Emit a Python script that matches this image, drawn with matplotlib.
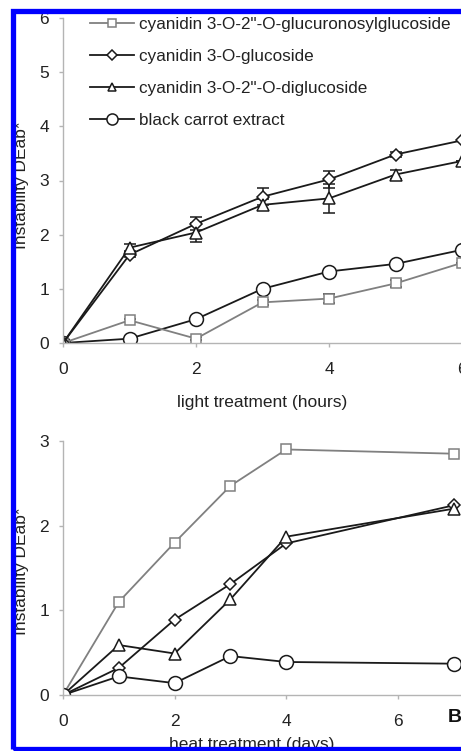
import matplotlib
matplotlib.use('Agg')
import matplotlib.pyplot as plt
from matplotlib.patches import Rectangle

plt.rcParams['font.family'] = ['Liberation Sans', 'DejaVu Sans']

# light treatment (hours)
light_x = [0, 1, 2, 3, 4, 5, 6]
light_glucuronosyl = [0, 0.42, 0.08, 0.75, 0.82, 1.10, 1.48]
light_glucuronosyl_err = [0, 0.03, 0.03, 0.04, 0.08, 0.06, 0.0]
light_glucoside = [0, 1.63, 2.20, 2.70, 3.02, 3.48, 3.74]
light_glucoside_err = [0, 0.05, 0.12, 0.16, 0.15, 0.05, 0.0]
light_diglucoside = [0, 1.76, 2.04, 2.55, 2.67, 3.11, 3.36]
light_diglucoside_err = [0, 0.06, 0.17, 0.10, 0.27, 0.09, 0.0]
light_carrot = [0, 0.08, 0.44, 1.00, 1.32, 1.46, 1.72]

# heat treatment (days)
heat_x = [0, 1, 2, 3, 4, 7]
heat_glucuronosyl = [0, 1.10, 1.80, 2.47, 2.90, 2.85]
heat_glucoside = [0, 0.32, 0.89, 1.31, 1.79, 2.24]
heat_diglucoside = [0, 0.59, 0.49, 1.13, 1.87, 2.20]
heat_carrot = [0, 0.22, 0.14, 0.46, 0.39, 0.37]

labels = ['cyanidin 3-O-2"-O-glucuronosylglucoside',
          'cyanidin 3-O-glucoside',
          'cyanidin 3-O-2"-O-diglucoside',
          'black carrot extract']

W, H = 461, 751
fig = plt.figure(figsize=(W / 100, H / 100), dpi=100)
fig.patch.set_facecolor('white')

grey = '#808080'
dark = '#1a1a1a'
spine_c = '#b4b4b4'
txt_c = '#222222'


def px_axes(x0, y0, w, h):
    # pixel box -> figure fraction (y0 = bottom pixel from top)
    return fig.add_axes([x0 / W, 1 - y0 / H, w / W, h / H])


def style(ax):
    for s in ['top', 'right']:
        ax.spines[s].set_visible(False)
    for s in ['left', 'bottom']:
        ax.spines[s].set_color(spine_c)
        ax.spines[s].set_linewidth(1)
    ax.tick_params(colors=spine_c, labelcolor=txt_c, labelsize=12.5,
                   length=3, width=1, direction='out')
    ax.tick_params(axis='x', pad=11)
    ax.tick_params(axis='y', pad=7)


def mk(shape, col):
    sizes = {'s': 7, 'D': 6.5, '^': 8, 'o': 10}
    return dict(marker=shape, markersize=sizes[shape], markerfacecolor='white',
                markeredgewidth=1.1, markeredgecolor=col)


# ---- top panel: light
tw = 6.4 * 66.5
ax1 = px_axes(63, 343, tw, 343 - 18)
style(ax1)
h0 = ax1.errorbar(light_x, light_glucuronosyl, yerr=light_glucuronosyl_err,
                  color=grey, lw=1.3, capsize=4, elinewidth=1.1, ecolor=dark,
                  **mk('s', grey))
h1 = ax1.errorbar(light_x, light_glucoside, yerr=light_glucoside_err,
                  color=dark, lw=1.3, capsize=4, elinewidth=1.1,
                  **mk('D', dark))
h2 = ax1.errorbar(light_x, light_diglucoside, yerr=light_diglucoside_err,
                  color=dark, lw=1.3, capsize=4, elinewidth=1.1,
                  **mk('^', dark))
h3, = ax1.plot(light_x, light_carrot, color=dark, lw=1.3, **mk('o', dark))
ax1.set_xlim(0, 6.4)
ax1.set_ylim(0, 6)
ax1.set_xticks([0, 2, 4, 6])
ax1.set_yticks(range(0, 7))
ax1.set_xlabel('light treatment (hours)', fontsize=12.5, color=txt_c)
ax1.xaxis.set_label_coords((262 - 63) / tw, -(395 - 343) / 325)
ax1.set_ylabel('Instability DEab*', fontsize=12.5, color=txt_c)
ax1.yaxis.set_label_coords((29 - 63) / tw, (343 - 185) / 325)

leg = ax1.legend([h0[0], h1[0], h2[0], h3], labels, loc='upper left',
                 bbox_to_anchor=((83 - 63) / tw, 1.024),
                 frameon=False, fontsize=12.3, handlelength=2.6,
                 handletextpad=0.3, labelspacing=1.0, markerscale=0.8,
                 borderaxespad=0)
for t in leg.get_texts():
    t.set_color(txt_c)

# ---- bottom panel: heat
bw = 7.5 * 55.8
ax2 = px_axes(63, 695, bw, 695 - 441)
style(ax2)
ax2.plot(heat_x, heat_glucuronosyl, color=grey, lw=1.3, **mk('s', grey))
ax2.plot(heat_x, heat_glucoside, color=dark, lw=1.3, **mk('D', dark))
ax2.plot(heat_x, heat_diglucoside, color=dark, lw=1.3, **mk('^', dark))
ax2.plot(heat_x, heat_carrot, color=dark, lw=1.3, **mk('o', dark))
ax2.set_xlim(0, 7.5)
ax2.set_ylim(0, 3)
ax2.set_xticks([0, 2, 4, 6])
ax2.set_yticks([0, 1, 2, 3])
ax2.set_xlabel('heat treatment (days)', fontsize=12.5, color=txt_c)
ax2.xaxis.set_label_coords((252 - 63) / bw, -(737 - 695) / 254)
ax2.set_ylabel('Instability DEab*', fontsize=12.5, color=txt_c)
ax2.yaxis.set_label_coords((29 - 63) / bw, (695 - 571) / 254)

fig.text(448 / W, 1 - 718 / H, 'B', fontsize=14, fontweight='bold',
         ha='left', va='center', color='#111111')

# blue frame
fig.add_artist(Rectangle((12.5 / W, 1 - 749 / H), 1.2, (749 - 10.5) / H,
                         transform=fig.transFigure, fill=False,
                         edgecolor='#0000ff', linewidth=3.8, zorder=20))

fig.savefig('out.png', dpi=100)
